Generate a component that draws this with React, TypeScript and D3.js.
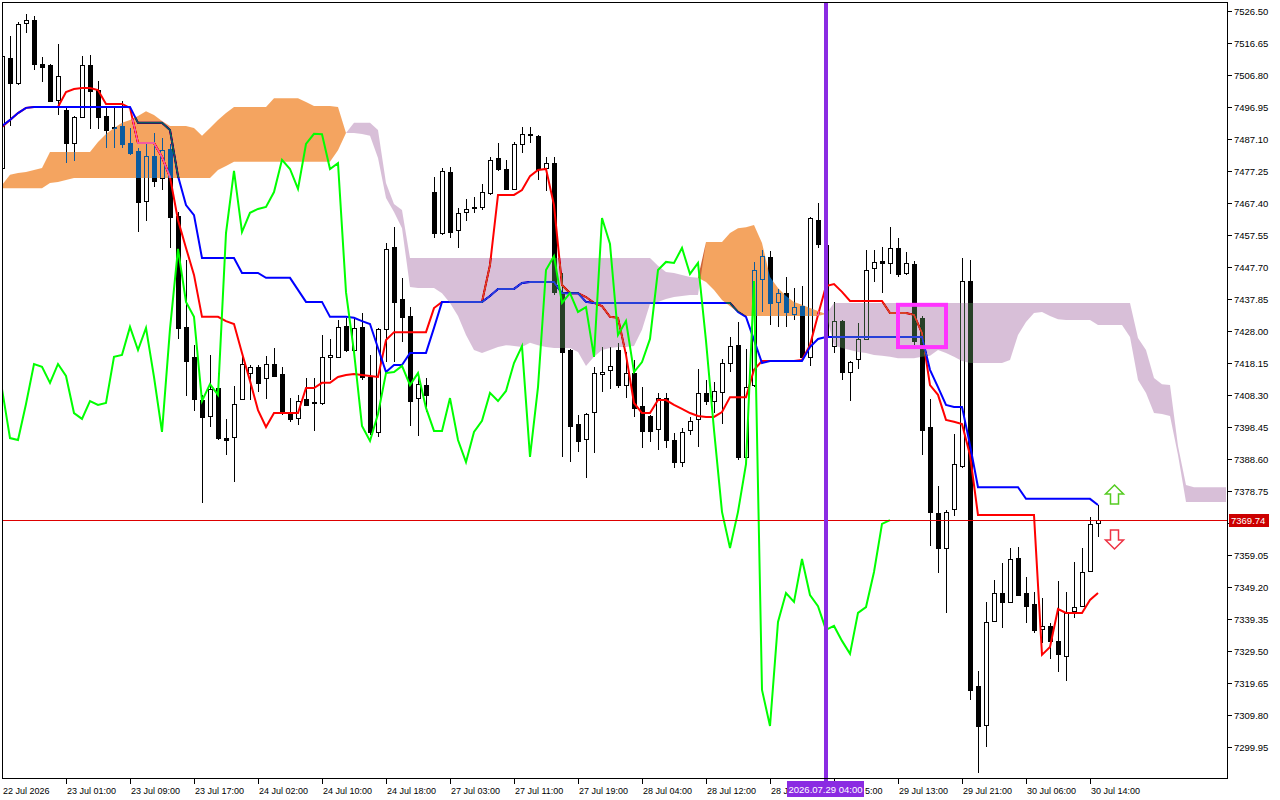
import React from 'react';
import * as d3 from 'd3';

// H1 candles, bar 0 = 22 Jul 2026 (first visible)
const opens = [
  7478.1, 7512.0, 7504.3, 7522.7, 7523.6, 7510.1, 7509.8, 7499.0, 7495.9, 7485.8,
  7493.8, 7509.8, 7502.1, 7494.1, 7490.7, 7491.0, 7485.8, 7483.3, 7467.9, 7481.8,
  7475.0, 7483.9, 7463.3, 7429.2, 7420.0, 7406.7, 7401.8, 7410.4, 7395.0, 7395.3,
  7407.0, 7415.0, 7416.9, 7413.5, 7417.8, 7414.7, 7403.0, 7401.2, 7407.0, 7406.1,
  7405.8, 7420.0, 7420.0, 7429.5, 7422.1, 7429.2, 7413.8, 7396.9, 7428.6, 7453.8,
  7437.8, 7432.6, 7407.3, 7411.3, 7470.7, 7458.1, 7476.9, 7459.0, 7464.6, 7465.8,
  7466.1, 7470.4, 7481.2, 7477.8, 7471.7, 7485.5, 7488.3, 7488.0, 7478.1, 7479.6,
  7439.9, 7422.1, 7399.3, 7394.7, 7403.0, 7414.7, 7415.9, 7422.1, 7411.3, 7415.0,
  7404.9, 7401.8, 7397.8, 7407.3, 7394.4, 7387.6, 7397.5, 7400.9, 7408.9, 7406.4,
  7409.2, 7418.1, 7423.6, 7389.2, 7411.3, 7444.0, 7450.7, 7436.9, 7439.6, 7433.2,
  7435.6, 7420.0, 7462.1, 7454.4, 7423.3, 7431.0, 7415.3, 7419.3, 7425.5, 7447.3,
  7449.5, 7448.9, 7453.5, 7445.8, 7448.6, 7432.0, 7398.4, 7372.0, 7361.2, 7373.2,
  7386.4, 7443.3, 7318.7, 7306.7, 7338.7, 7347.3, 7344.6, 7358.1, 7347.3, 7343.9,
  7336.3, 7337.2, 7332.6, 7328.0, 7341.8, 7343.3, 7354.1, 7368.9,
];
const highs = [
  7514.4, 7518.7, 7523.0, 7525.5, 7524.9, 7512.3, 7510.0, 7516.3, 7496.6, 7494.0,
  7512.6, 7512.9, 7504.9, 7496.9, 7496.9, 7498.7, 7490.4, 7484.3, 7485.8, 7488.9,
  7487.3, 7485.5, 7464.6, 7449.8, 7423.6, 7408.3, 7420.6, 7415.0, 7400.9, 7411.0,
  7421.2, 7417.5, 7417.5, 7420.3, 7422.7, 7416.9, 7407.3, 7408.3, 7413.5, 7413.5,
  7426.7, 7425.5, 7431.3, 7432.0, 7432.0, 7433.5, 7420.6, 7428.9, 7455.0, 7460.0,
  7444.3, 7435.3, 7414.4, 7413.5, 7475.3, 7478.1, 7478.4, 7465.8, 7468.6, 7469.2,
  7473.2, 7481.5, 7485.8, 7480.6, 7486.1, 7490.7, 7490.7, 7488.3, 7481.5, 7481.5,
  7445.8, 7422.4, 7402.1, 7402.7, 7416.9, 7423.0, 7423.0, 7424.3, 7421.5, 7419.0,
  7410.7, 7402.0, 7408.9, 7408.9, 7396.6, 7398.1, 7401.5, 7416.3, 7412.9, 7412.3,
  7419.3, 7426.1, 7430.7, 7422.4, 7449.2, 7452.9, 7452.6, 7440.9, 7444.6, 7441.2,
  7441.8, 7463.0, 7467.3, 7456.0, 7436.9, 7431.3, 7418.7, 7430.4, 7452.9, 7452.9,
  7453.8, 7460.0, 7456.6, 7452.3, 7449.5, 7432.6, 7407.0, 7380.3, 7372.9, 7396.3,
  7450.4, 7449.8, 7323.3, 7344.6, 7351.3, 7356.6, 7361.2, 7361.5, 7352.3, 7347.6,
  7345.8, 7338.1, 7351.0, 7347.6, 7356.9, 7361.2, 7370.7, 7374.4,
];
const lows = [
  7477.5, 7491.0, 7503.6, 7519.6, 7508.3, 7504.6, 7498.4, 7494.4, 7479.5, 7480.2,
  7493.5, 7490.1, 7490.1, 7484.3, 7484.3, 7484.3, 7482.1, 7458.4, 7461.8, 7472.3,
  7471.3, 7453.5, 7425.5, 7408.0, 7403.3, 7375.1, 7398.4, 7394.4, 7389.8, 7381.5,
  7406.7, 7406.7, 7409.2, 7407.0, 7413.8, 7402.1, 7400.0, 7399.0, 7404.9, 7397.2,
  7405.2, 7412.9, 7419.6, 7421.5, 7421.5, 7412.9, 7396.0, 7395.3, 7418.4, 7418.4,
  7424.6, 7398.7, 7395.6, 7403.0, 7456.6, 7457.5, 7456.6, 7453.5, 7461.8, 7464.3,
  7465.2, 7469.8, 7477.2, 7471.5, 7471.3, 7482.7, 7485.8, 7474.4, 7471.0, 7439.0,
  7389.2, 7387.6, 7390.7, 7382.7, 7390.4, 7409.2, 7410.1, 7410.4, 7407.3, 7401.5,
  7392.0, 7393.8, 7391.3, 7391.9, 7385.8, 7386.1, 7396.0, 7392.3, 7405.2, 7402.7,
  7399.3, 7415.3, 7388.3, 7388.3, 7410.7, 7433.8, 7429.8, 7429.2, 7429.2, 7431.3,
  7419.0, 7417.2, 7453.5, 7423.6, 7421.2, 7412.9, 7406.4, 7416.3, 7425.2, 7443.0,
  7439.6, 7445.5, 7444.6, 7445.2, 7423.6, 7389.8, 7361.8, 7353.5, 7341.2, 7371.0,
  7385.8, 7314.4, 7292.0, 7299.9, 7338.4, 7336.6, 7344.3, 7346.4, 7338.1, 7335.0,
  7332.0, 7327.0, 7323.0, 7320.3, 7339.6, 7343.0, 7353.8, 7364.6,
];
const closes = [
  7512.6, 7504.3, 7522.5, 7523.6, 7510.1, 7509.2, 7498.6, 7506.4, 7485.8, 7493.8,
  7509.8, 7501.8, 7493.8, 7489.8, 7490.4, 7485.5, 7482.7, 7467.6, 7481.8, 7474.1,
  7483.6, 7463.0, 7428.9, 7418.7, 7407.0, 7401.5, 7410.1, 7395.0, 7394.4, 7405.5,
  7417.8, 7416.9, 7412.0, 7417.8, 7414.1, 7402.7, 7400.9, 7406.4, 7405.2, 7405.8,
  7420.0, 7420.6, 7429.2, 7422.1, 7428.9, 7413.8, 7396.9, 7428.6, 7453.2, 7436.9,
  7432.3, 7406.4, 7411.6, 7408.3, 7458.1, 7477.2, 7458.4, 7464.3, 7465.5, 7466.1,
  7470.7, 7480.6, 7477.8, 7471.7, 7485.5, 7488.6, 7488.5, 7477.8, 7479.6, 7439.9,
  7421.5, 7398.7, 7394.1, 7402.4, 7415.0, 7415.3, 7417.2, 7411.3, 7415.0, 7404.3,
  7397.2, 7397.2, 7407.3, 7394.4, 7387.6, 7396.9, 7400.3, 7408.9, 7406.4, 7409.5,
  7418.1, 7423.3, 7389.2, 7410.7, 7446.7, 7451.0, 7436.6, 7439.6, 7433.8, 7435.3,
  7420.0, 7462.7, 7454.7, 7426.7, 7431.0, 7415.3, 7418.4, 7425.5, 7446.7, 7449.2,
  7448.9, 7453.5, 7445.5, 7448.9, 7424.9, 7397.5, 7372.3, 7361.2, 7372.3, 7387.0,
  7443.3, 7317.5, 7306.4, 7338.4, 7347.3, 7344.6, 7357.8, 7346.7, 7343.3, 7336.0,
  7337.2, 7332.6, 7328.6, 7341.2, 7343.0, 7353.8, 7368.6, 7369.74,
];

// Ichimoku lines, one value per bar
const tenkan = [
  7490.7, 7492.9, 7495.0, 7496.6, 7496.9, 7496.9, 7496.9, 7496.9, 7501.5, 7502.4,
  7502.7, 7502.7, 7502.1, 7497.8, 7497.8, 7497.8, 7496.6, 7485.8, 7485.8, 7485.8,
  7481.5, 7475.3, 7462.1, 7453.5, 7445.2, 7432.3, 7432.3, 7432.3, 7431.0, 7430.1,
  7421.2, 7412.6, 7403.6, 7398.4, 7402.7, 7402.7, 7402.7, 7402.7, 7410.4, 7410.4,
  7412.0, 7412.0, 7413.8, 7414.4, 7414.7, 7414.4, 7414.1, 7413.8, 7425.2, 7427.6,
  7427.6, 7427.6, 7427.6, 7427.6, 7435.0, 7436.9, 7436.9, 7436.9, 7436.9, 7436.9,
  7436.9, 7448.3, 7469.8, 7469.8, 7469.8, 7471.3, 7475.6, 7477.5, 7477.8, 7466.7,
  7442.1, 7439.6, 7439.6, 7438.4, 7436.6, 7435.6, 7432.3, 7432.0, 7420.6, 7405.8,
  7402.7, 7402.7, 7406.7, 7406.7, 7405.2, 7404.0, 7402.7, 7401.8, 7401.5, 7401.5,
  7403.0, 7407.6, 7407.6, 7407.6, 7416.0, 7418.7, 7418.7, 7418.7, 7418.7, 7418.7,
  7419.0, 7423.6, 7432.9, 7441.8, 7442.4, 7440.0, 7437.2, 7437.2, 7437.2, 7437.2,
  7437.2, 7433.5, 7433.5, 7433.5, 7432.9, 7427.3, 7411.3, 7408.3, 7400.6, 7400.0,
  7399.3, 7389.8, 7371.3, 7371.3, 7371.3, 7371.3, 7371.3, 7371.3, 7371.3, 7371.3,
  7328.3, 7330.7, 7342.4, 7341.2, 7341.2, 7341.2, 7345.2, 7347.3,
];
const kijun = [
  7491.0, 7492.9, 7495.0, 7496.6, 7496.9, 7496.9, 7496.9, 7496.9, 7496.9, 7496.9,
  7496.9, 7496.9, 7496.9, 7496.9, 7496.9, 7496.9, 7496.9, 7492.0, 7492.0, 7492.0,
  7492.0, 7489.8, 7475.6, 7466.7, 7463.6, 7450.4, 7450.4, 7450.4, 7450.4, 7450.4,
  7445.8, 7445.8, 7445.8, 7444.3, 7444.3, 7444.3, 7444.3, 7440.6, 7436.9, 7436.9,
  7436.9, 7432.3, 7432.3, 7432.3, 7432.0, 7431.0, 7430.1, 7422.7, 7415.3, 7417.5,
  7417.5, 7421.2, 7421.2, 7421.2, 7428.9, 7436.9, 7436.9, 7436.9, 7436.9, 7436.9,
  7436.9, 7438.7, 7440.9, 7440.9, 7440.9, 7442.7, 7443.0, 7443.0, 7443.0, 7443.0,
  7439.6, 7439.6, 7439.6, 7436.9, 7436.6, 7436.6, 7436.6, 7436.6, 7436.6, 7436.6,
  7436.6, 7436.6, 7436.6, 7436.6, 7436.6, 7436.6, 7436.6, 7436.6, 7436.6, 7436.6,
  7436.6, 7436.6, 7433.8, 7432.3, 7425.2, 7418.1, 7418.7, 7418.7, 7418.7, 7418.7,
  7418.7, 7423.0, 7425.5, 7426.1, 7426.1, 7426.1, 7426.1, 7426.1, 7426.1, 7426.1,
  7426.1, 7426.1, 7426.1, 7426.1, 7426.1, 7426.1, 7416.0, 7410.7, 7405.2, 7404.6,
  7404.6, 7392.9, 7379.9, 7379.9, 7379.9, 7379.9, 7379.9, 7379.9, 7376.3, 7376.3,
  7376.3, 7376.3, 7376.3, 7376.3, 7376.3, 7376.3, 7376.3, 7374.4,
];
// Senkou spans as plotted (already shifted 26 bars ahead), bars 0..153
const spanA = [
  7472.9, 7476.0, 7476.6, 7476.9, 7477.5, 7478.1, 7483.0, 7483.0, 7483.0, 7483.0,
  7483.0, 7483.0, 7486.1, 7488.6, 7490.4, 7492.0, 7492.9, 7494.1, 7495.6, 7494.4,
  7492.6, 7491.0, 7491.0, 7491.0, 7490.4, 7488.0, 7490.4, 7492.9, 7495.0, 7496.9,
  7496.9, 7496.9, 7496.9, 7496.9, 7499.6, 7499.6, 7499.6, 7499.6, 7498.4, 7497.2,
  7497.2, 7497.2, 7496.9, 7488.9, 7488.9, 7488.6, 7488.0, 7481.2, 7468.9, 7464.6,
  7459.6, 7441.5, 7441.2, 7441.2, 7441.2, 7439.6, 7436.6, 7432.6, 7426.7, 7422.1,
  7421.2, 7422.1, 7423.0, 7423.6, 7423.3, 7423.0, 7424.3, 7423.6, 7423.0, 7422.7,
  7422.7, 7422.7, 7421.5, 7417.2, 7420.0, 7422.1, 7422.7, 7423.0, 7423.0, 7423.3,
  7428.3, 7436.3, 7436.9, 7437.8, 7438.4, 7438.7, 7439.0, 7439.0, 7455.3, 7455.3,
  7455.3, 7458.1, 7459.6, 7459.9, 7460.6, 7455.0, 7444.6, 7441.2, 7438.7, 7436.9,
  7436.0, 7435.0, 7434.1, 7433.2, 7423.6, 7422.7, 7422.1, 7421.5, 7421.2, 7420.6,
  7420.3, 7420.0, 7419.6, 7419.6, 7419.6, 7420.0, 7420.3, 7422.1, 7421.2, 7420.0,
  7418.7, 7418.1, 7418.1, 7418.1, 7418.1, 7418.1, 7419.0, 7426.7, 7430.7, 7433.5,
  7433.8, 7432.6, 7431.6, 7431.3, 7431.3, 7431.3, 7431.3, 7429.8, 7429.8, 7429.8,
  7429.8, 7426.1, 7412.9, 7408.9, 7402.7, 7402.4, 7401.8, 7389.8, 7375.3, 7375.3,
  7375.3, 7375.3, 7375.3, 7375.3,
];
const spanB = [
  7471.9, 7471.9, 7471.9, 7471.9, 7471.9, 7471.9, 7473.5, 7473.8, 7474.4, 7475.0,
  7475.0, 7475.0, 7475.0, 7475.0, 7475.0, 7475.0, 7475.0, 7475.0, 7475.0, 7475.0,
  7475.0, 7475.0, 7475.0, 7475.0, 7475.0, 7475.0, 7475.0, 7477.5, 7478.7, 7480.0,
  7480.0, 7480.0, 7480.0, 7480.0, 7480.0, 7480.0, 7480.0, 7480.0, 7480.0, 7480.0,
  7480.0, 7480.0, 7483.6, 7488.9, 7492.0, 7492.0, 7492.0, 7489.8, 7473.5, 7467.0,
  7465.2, 7450.4, 7450.4, 7450.4, 7450.4, 7450.4, 7450.4, 7450.4, 7450.4, 7450.4,
  7450.4, 7450.4, 7450.4, 7450.4, 7450.4, 7450.4, 7450.4, 7450.4, 7450.4, 7450.4,
  7450.4, 7450.4, 7450.4, 7450.4, 7450.4, 7450.4, 7450.4, 7450.4, 7450.4, 7450.4,
  7450.4, 7450.4, 7448.0, 7446.1, 7445.8, 7445.2, 7444.6, 7444.3, 7443.0, 7440.6,
  7437.5, 7435.6, 7433.8, 7432.6, 7432.6, 7432.6, 7432.6, 7432.6, 7432.6, 7432.6,
  7432.6, 7432.6, 7432.6, 7433.2, 7436.6, 7436.6, 7436.6, 7436.6, 7436.6, 7436.6,
  7436.6, 7436.6, 7436.6, 7436.6, 7436.6, 7436.6, 7436.6, 7436.6, 7436.6, 7436.6,
  7436.6, 7436.6, 7436.6, 7436.6, 7436.6, 7436.6, 7436.6, 7436.6, 7436.6, 7436.6,
  7436.6, 7436.6, 7436.6, 7436.6, 7436.6, 7436.6, 7436.6, 7436.6, 7436.6, 7436.6,
  7436.6, 7436.6, 7425.8, 7422.1, 7413.5, 7411.6, 7411.3, 7392.6, 7380.6, 7379.9,
  7379.9, 7379.9, 7379.9, 7379.9,
];

const priceTicks = [
  '7526.50', '7516.65', '7506.80', '7496.95', '7487.10', '7477.25', '7467.40', '7457.55',
  '7447.70', '7437.85', '7428.00', '7418.15', '7408.30', '7398.45', '7388.60', '7378.75',
  '7368.90', '7359.05', '7349.20', '7339.35', '7329.50', '7319.65', '7309.80', '7299.95',
];
const timeTickBars = [0, 8, 16, 24, 32, 40, 48, 56, 64, 72, 80, 88, 96, 104, 112, 120, 128, 136];
// labels as they read on the axis; the two under the selected-bar tag only show their uncovered part
const timeTickLabels = [
  '22 Jul 2026', '23 Jul 01:00', '23 Jul 09:00', '23 Jul 17:00', '24 Jul 02:00', '24 Jul 10:00',
  '24 Jul 18:00', '27 Jul 03:00', '27 Jul 11:00', '27 Jul 19:00', '28 Jul 04:00', '28 Jul 12:00',
  '28 J', '5:00', '29 Jul 13:00', '29 Jul 21:00', '30 Jul 06:00', '30 Jul 14:00',
];
const markerBar = 103;
const markerLabel = '2026.07.29 04:00';
const zone = { fromBar: 112, toBar: 118, top: 7436.0, bottom: 7423.0 };
const arrowBar = 139;
const upArrowBase = 7374.7;
const downArrowTop = 7366.8;

const chikouShift = 26;
const font = "'Liberation Sans', Arial, sans-serif";

const App: React.FC = () => {
  const x = d3.scaleLinear().domain([0, 153]).range([2, 1226]);
  const y = d3.scaleLinear().domain([7526.5, 7299.95]).range([10.7, 746.99]);

  const lineOf = (vals: number[], offset = 0) =>
    d3.line<number>().x((_, i) => x(i + offset)).y(d => y(d))(vals) || '';

  const idx = d3.range(spanA.length);
  const orangeArea = d3.area<number>()
    .x(j => x(j))
    .y0(j => y(spanB[j]))
    .y1(j => y(Math.max(spanA[j], spanB[j])))(idx) || '';
  const thistleArea = d3.area<number>()
    .x(j => x(j))
    .y0(j => y(spanA[j]))
    .y1(j => y(Math.max(spanA[j], spanB[j])))(idx) || '';

  const chikou = closes.slice(chikouShift);
  const last = closes[closes.length - 1];
  const lastY = Math.round(y(last));
  const ax = Math.round(x(arrowBar));
  const upY = Math.round(y(upArrowBase));
  const dnY = Math.round(y(downArrowTop));
  const mx = Math.round(x(markerBar));
  const tagRight = mx + 38;

  return (
    <svg width={1280} height={800} viewBox="0 0 1280 800"
      style={{ position: 'fixed', left: 0, top: 0, background: '#fff' }}>
      <defs>
        <clipPath id="plotClip"><rect x={3} y={3} width={1224} height={775} /></clipPath>
      </defs>
      <rect x={0} y={0} width={1280} height={800} fill="#fff" />
      <g clipPath="url(#plotClip)">
        <rect x={0} y={0} width={1280} height={800} fill="#fff" />
        {opens.map((o, i) => {
          const c = closes[i];
          const cx = Math.round(x(i));
          const top = Math.round(y(Math.max(o, c)));
          const bot = Math.round(y(Math.min(o, c)));
          const bull = c >= o;
          return (
            <g key={i}>
              <line x1={cx + 0.5} x2={cx + 0.5} y1={Math.round(y(highs[i]))} y2={Math.round(y(lows[i]))} stroke="#000" strokeWidth={1} />
              {bull
                ? <rect x={cx - 1.5} y={top + 0.5} width={4} height={Math.max(1, bot - top)} fill="#fff" stroke="#000" strokeWidth={1} />
                : <rect x={cx - 2} y={top} width={5} height={Math.max(1, bot - top + 1)} fill="#000" />}
            </g>
          );
        })}
        <path d={lineOf(tenkan)} fill="none" stroke="#ff0000" strokeWidth={2} />
        <path d={lineOf(kijun)} fill="none" stroke="#0000ff" strokeWidth={2} />
        {/* cloud drawn as a difference blend, like the terminal's XOR fill */}
        <path d={orangeArea} fill="rgb(11,91,159)" style={{ mixBlendMode: 'difference' }} />
        <path d={thistleArea} fill="rgb(39,64,39)" style={{ mixBlendMode: 'difference' }} />
        <path d={lineOf(chikou)} fill="none" stroke="#00ff00" strokeWidth={2} />
      </g>

      {/* current price line */}
      <line x1={2} x2={1227} y1={lastY + 0.5} y2={lastY + 0.5} stroke="#dd0000" strokeWidth={1} />

      {/* selected bar */}
      <line x1={x(markerBar)} x2={x(markerBar)} y1={2} y2={790} stroke="#8a2be2" strokeWidth={4} />

      {/* highlight zone */}
      <rect x={x(zone.fromBar)} y={y(zone.top)} width={x(zone.toBar) - x(zone.fromBar)}
        height={y(zone.bottom) - y(zone.top)} fill="none" stroke="#ff33ff" strokeWidth={4} />

      {/* signal arrows */}
      <polygon
        points={`${ax + 0.5},${upY - 19} ${ax + 9.5},${upY - 10} ${ax + 4.5},${upY - 10} ${ax + 4.5},${upY} ${ax - 3.5},${upY} ${ax - 3.5},${upY - 10} ${ax - 8.5},${upY - 10}`}
        fill="#fff" stroke="#55cc22" strokeWidth={1.5} />
      <polygon
        points={`${ax - 3.5},${dnY} ${ax + 4.5},${dnY} ${ax + 4.5},${dnY + 10} ${ax + 9.5},${dnY + 10} ${ax + 0.5},${dnY + 19} ${ax - 8.5},${dnY + 10} ${ax - 3.5},${dnY + 10}`}
        fill="#fff" stroke="#ee3344" strokeWidth={1.5} />

      {/* frame */}
      <rect x={2.5} y={2.5} width={1225} height={776} fill="none" stroke="#000" strokeWidth={1} />

      {/* price axis; the tick under the last-price tag keeps only its mark */}
      {priceTicks.map(t => {
        const ty = Math.round(y(+t)) + 0.5;
        const covered = Math.abs(ty - lastY) < 8;
        return (
          <g key={t}>
            <line x1={1228} x2={1232} y1={ty} y2={ty} stroke="#000" />
            {!covered && <text x={1234} y={ty + 3.5} fontFamily={font} fontSize={9.5} fill="#000">{t}</text>}
          </g>
        );
      })}
      <rect x={1229} y={lastY - 6} width={40} height={13} fill="#cc0000" />
      <text x={1231} y={lastY + 4} fontFamily={font} fontSize={9.5} fill="#fff">{last.toFixed(2)}</text>

      {/* time axis */}
      {timeTickBars.map((b, k) => {
        const tx = Math.round(x(b)) + 0.5;
        const label = timeTickLabels[k];
        const startsUnderTag = tx > mx - 39 && tx < tagRight;
        return (
          <g key={b}>
            {b > 0 && <line x1={tx} x2={tx} y1={779} y2={784} stroke="#000" />}
            <text x={startsUnderTag ? tagRight + 1 : tx + 0.5} y={794} fontFamily={font} fontSize={9} fill="#000">{label}</text>
          </g>
        );
      })}
      <rect x={mx - 39} y={781} width={77} height={16} fill="#8a2be2" />
      <text x={mx - 0.5} y={793} textAnchor="middle" fontFamily={font} fontSize={9.5} fill="#fff">{markerLabel}</text>
    </svg>
  );
};

export default App;
